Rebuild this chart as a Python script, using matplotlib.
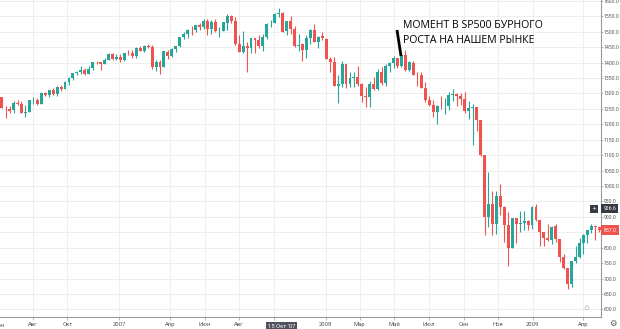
import matplotlib
matplotlib.use("Agg")
import matplotlib.pyplot as plt
import matplotlib.dates as mdates
import pandas as pd
import numpy as np

# ---------------- data (weekly S&P 500 candles) ----------------
first_week = "2006-06-05"
opens = [
    1288, 1252, 1251, 1245, 1270, 1265, 1236, 1240, 1278, 1279, 1267, 1302, 1295, 1311, 1299, 1320, 1315, 1336, 1350, 1366,
    1369, 1377, 1364, 1381, 1401, 1401, 1397, 1410, 1427, 1411,
    1418, 1410, 1431, 1430, 1422, 1448, 1438, 1455, 1451, 1387, 1403, 1387, 1436, 1421, 1444, 1453, 1484, 1494, 1506, 1506,
    1523, 1516, 1536, 1508, 1533, 1503, 1503, 1530, 1552, 1534, 1459, 1433, 1454, 1446, 1479, 1474, 1454, 1484, 1526, 1527,
    1558, 1562, 1501, 1535, 1510, 1454, 1459, 1441, 1481, 1505, 1468, 1485, 1478,
    1412, 1401, 1325, 1331, 1395, 1331, 1350, 1353, 1331, 1293, 1288, 1330, 1315, 1370, 1333, 1390, 1398, 1414, 1388, 1425,
    1376, 1400, 1361, 1360, 1318, 1278, 1263, 1239, 1261, 1258, 1260, 1296, 1298, 1292, 1283, 1242, 1252, 1255, 1213, 1099,
    899, 941, 877, 969, 931, 873, 800, 896, 876, 880, 888, 873,
    932, 890, 850, 832, 826, 869, 827, 770, 735, 683, 757, 769, 816, 842, 857, 870, 866,
]
highs = [
    1290, 1259, 1258, 1276, 1280, 1274, 1262, 1280, 1288, 1286, 1304, 1306, 1312, 1318, 1323, 1328, 1340, 1353, 1367, 1372,
    1389, 1381, 1389, 1403, 1406, 1403, 1415, 1431, 1431, 1427,
    1429, 1432, 1441, 1441, 1452, 1453, 1457, 1461, 1456, 1410, 1409, 1439, 1440, 1446, 1453, 1484, 1498, 1510, 1518, 1523,
    1530, 1540, 1540, 1538, 1540, 1516, 1532, 1556, 1555, 1547, 1488, 1503, 1466, 1480, 1481, 1488, 1493, 1530, 1538, 1561,
    1576, 1564, 1536, 1552, 1520, 1492, 1463, 1488, 1508, 1524, 1485, 1499, 1480,
    1417, 1417, 1360, 1405, 1397, 1369, 1368, 1388, 1335, 1321, 1341, 1353, 1380, 1386, 1395, 1402, 1422, 1416, 1426, 1441,
    1406, 1405, 1370, 1371, 1336, 1292, 1278, 1263, 1291, 1284, 1306, 1314, 1301, 1303, 1304, 1274, 1265, 1255, 1214, 1099,
    1044, 985, 984, 1007, 934, 917, 897, 896, 919, 918, 890, 934,
    943, 891, 852, 877, 870, 876, 827, 780, 735, 758, 804, 832, 845, 858, 876, 871, 868,
]
lows = [
    1252, 1219, 1237, 1237, 1262, 1236, 1224, 1240, 1266, 1263, 1266, 1292, 1290, 1294, 1292, 1309, 1314, 1327, 1345, 1360,
    1364, 1360, 1364, 1375, 1396, 1377, 1395, 1408, 1409, 1408,
    1403, 1404, 1424, 1416, 1416, 1437, 1433, 1446, 1380, 1374, 1364, 1386, 1413, 1419, 1436, 1451, 1477, 1480, 1491, 1498,
    1505, 1510, 1490, 1492, 1500, 1484, 1503, 1506, 1529, 1458, 1433, 1430, 1371, 1430, 1432, 1449, 1439, 1476, 1516, 1527,
    1547, 1500, 1490, 1492, 1450, 1438, 1406, 1416, 1460, 1467, 1446, 1474, 1411,
    1370, 1325, 1270, 1321, 1317, 1320, 1322, 1325, 1272, 1257, 1256, 1311, 1312, 1327, 1324, 1371, 1381, 1384, 1386, 1373,
    1373, 1359, 1325, 1318, 1272, 1260, 1225, 1200, 1251, 1233, 1247, 1275, 1261, 1263, 1236, 1217, 1133, 1179, 1097, 840,
    866, 840, 845, 905, 818, 741, 798, 815, 851, 857, 857, 862,
    888, 805, 804, 821, 812, 818, 754, 730, 667, 673, 750, 768, 780, 814, 848, 826, 850,
]
closes = [
    1252.3, 1251.5, 1244.5, 1270.2, 1265.5, 1236.2, 1240.3, 1278.6, 1279.4, 1266.7, 1302.3, 1295.1, 1311.0, 1298.9, 1319.7,
    1314.8, 1335.9, 1349.6, 1365.6, 1368.6, 1377.3, 1364.3, 1380.9, 1401.2, 1400.9, 1396.7, 1409.8, 1427.1, 1410.8, 1418.3,
    1409.7, 1430.7, 1430.5, 1422.2, 1448.4, 1438.1, 1455.5, 1451.2, 1387.2, 1402.8, 1387.0, 1436.1, 1420.9, 1443.8, 1452.9,
    1484.4, 1494.1, 1505.6, 1505.9, 1522.8, 1515.7, 1536.3, 1507.7, 1532.9, 1502.6, 1503.4, 1530.4, 1552.5, 1534.1, 1459.0,
    1433.1, 1453.6, 1445.9, 1479.4, 1474.0, 1453.6, 1484.3, 1525.8, 1526.8, 1557.6, 1561.8, 1500.6, 1535.3, 1509.7, 1453.7,
    1458.7, 1440.7, 1481.1, 1504.7, 1468.0, 1484.5, 1478.5, 1411.6,
    1401.0, 1325.2, 1330.6, 1395.4, 1331.3, 1350.0, 1353.1, 1330.6, 1293.4, 1288.1, 1329.5, 1315.2, 1370.4, 1332.8, 1390.3,
    1397.8, 1413.9, 1388.3, 1425.4, 1375.9, 1400.4, 1360.7, 1360.0, 1317.9, 1278.4, 1262.9, 1239.5, 1260.7, 1257.8, 1260.3,
    1296.3, 1298.2, 1292.2, 1282.8, 1242.3, 1251.7, 1255.1, 1213.3, 1099.2, 899.2, 940.6, 876.8, 968.8, 931.0, 873.3, 800.0,
    896.2, 876.1, 879.7, 887.9, 872.8, 931.8,
    890.4, 850.1, 832.0, 825.9, 868.6, 826.8, 770.1, 735.1, 683.4, 756.6, 768.5, 815.9, 842.5, 856.6, 869.6, 866.2, 857.5,
]
y_levels = list(range(600, 1601, 50))
tick_dates = ["2006-08-01", "2006-10-01", "2007-01-01", "2007-04-01", "2007-06-01", "2007-08-01", "2007-10-01",
              "2008-01-01", "2008-03-01", "2008-05-01", "2008-07-01", "2008-09-01", "2008-11-01", "2009-01-01",
              "2009-04-01"]
tick_labels = ["Авг", "Окт", "2007", "Апр", "Июн", "Авг", "", "2008", "Мар", "Май", "Июл", "Сен", "Ноя", "2009", "Апр"]
crosshair_date_label = "15 Окт '07"
crosshair_date = "2007-10-15"
crosshair_price = 926.6
last_price = 857.0
annotation_lines = ["МОМЕНТ В SP500 БУРНОГО", "РОСТА НА НАШЕМ РЫНКЕ"]

# ---------------- drawing ----------------
UP, DOWN = "#26a69a", "#ef5350"
W, H = 620, 329
fig = plt.figure(figsize=(W / 100, H / 100), dpi=100)
fig.patch.set_facecolor("white")
ax_w, ax_h = 601, 316.5
ax = fig.add_axes([0, (H - ax_h) / H, ax_w / W, ax_h / H])

weeks = pd.date_range(first_week, periods=len(closes), freq="W-MON") + pd.Timedelta(days=2)
xs = mdates.date2num(weeks.to_pydatetime())
o, h, l, c = map(np.asarray, (opens, highs, lows, closes))
cols = np.where(c >= o, UP, DOWN)

ax.vlines(xs, l, h, colors=cols, linewidth=0.8, zorder=3)
ax.bar(xs, np.maximum(np.abs(c - o), 0.8), bottom=np.minimum(o, c), width=5.2, color=cols,
       linewidth=0, zorder=4)

ax.set_xlim(mdates.date2num(pd.Timestamp("2006-06-04")), mdates.date2num(pd.Timestamp("2009-05-02")))
ax.set_ylim(577, 1603)

tick_x = mdates.date2num(pd.to_datetime(tick_dates).to_pydatetime())
ax.set_xticks(tick_x)
ax.set_xticklabels(tick_labels)
ax.set_yticks(y_levels)
ax.set_yticklabels([f"{v:.1f}" for v in y_levels])
ax.yaxis.tick_right()
ax.grid(True, color="#eeeeee", linewidth=0.7, zorder=0)
ax.tick_params(axis="x", labelsize=4.2, colors="#9a9a9a", labelcolor="#555555", length=2, width=0.5, pad=2)
ax.tick_params(axis="y", labelsize=3.7, colors="#9a9a9a", labelcolor="#555555", length=1.2, width=0.5, pad=0.8)
for lab in ax.get_xticklabels() + ax.get_yticklabels():
    lab.set_family("Roboto")
for s in ["top", "left"]:
    ax.spines[s].set_visible(False)
ax.spines["bottom"].set_color("#9a9a9a")
ax.spines["right"].set_color("#9a9a9a")
ax.spines["bottom"].set_linewidth(0.8)
ax.spines["right"].set_linewidth(0.8)

# cut-off first month label
ax.text(mdates.date2num(pd.Timestamp("2006-06-01")), -0.022, "Июн", transform=ax.get_xaxis_transform(),
        ha="center", va="top", fontsize=4.2, color="#555555", family="Roboto", clip_on=False)

# crosshair date label
ax.text(mdates.date2num(pd.Timestamp(crosshair_date)), -0.024, crosshair_date_label,
        transform=ax.get_xaxis_transform(), ha="center", va="top", fontsize=4.2, color="white",
        family="Roboto", clip_on=False, zorder=10,
        bbox=dict(boxstyle="square,pad=0.35", fc="#50535e", ec="none"))

# price labels on the right axis
ax.text(1.004, crosshair_price, f"{crosshair_price:.1f}", transform=ax.get_yaxis_transform(),
        ha="left", va="center", fontsize=3.7, color="white", family="Roboto", clip_on=False, zorder=10,
        bbox=dict(boxstyle="square,pad=0.45", fc="#363a45", ec="none"))
ax.text(0.988, crosshair_price, "+", transform=ax.get_yaxis_transform(),
        ha="center", va="center", fontsize=4.2, color="white", family="DejaVu Sans", clip_on=False, zorder=10,
        bbox=dict(boxstyle="square,pad=0.25", fc="#363a45", ec="none"))
ax.text(1.004, last_price, f"{last_price:.1f}", transform=ax.get_yaxis_transform(),
        ha="left", va="center", fontsize=3.7, color="white", family="Roboto", clip_on=False, zorder=10,
        bbox=dict(boxstyle="square,pad=0.55", fc=DOWN, ec="none"))

# annotation
ax.plot([397 / ax_w, 401 / ax_w], [(ax_h - 30) / ax_h, (ax_h - 56) / ax_h], transform=ax.transAxes,
        color="black", linewidth=2.0, solid_capstyle="butt", zorder=6)
ax.text(403 / ax_w, (ax_h - 26) / ax_h, annotation_lines[0], transform=ax.transAxes, ha="left", va="center",
        fontsize=7.6, family="Open Sans", color="black", zorder=6)
ax.text(403 / ax_w, (ax_h - 40.5) / ax_h, annotation_lines[1], transform=ax.transAxes, ha="left", va="center",
        fontsize=7.6, family="Open Sans", color="black", zorder=6)

# small icons
fig.text(613 / W, 1 - 323 / H, "⚙", ha="center", va="center", fontsize=6, color="#555555", family="DejaVu Sans")
fig.text(586 / W, 1 - 308 / H, "⊙", ha="center", va="center", fontsize=5, color="#b0b0b0", family="DejaVu Sans")

fig.savefig("out.png", dpi=100, facecolor="white")
